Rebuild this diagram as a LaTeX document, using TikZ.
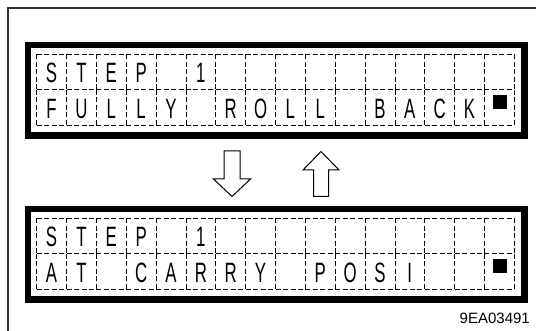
\documentclass[tikz,border=0pt]{standalone}
\usepackage{fontspec}
\setmainfont{Liberation Sans}

\tikzset{
  lcdframe/.style={line width=6.5pt},
  lcdcell/.style={line width=0.8pt, dash pattern=on 5pt off 2.5pt},
  lcdchar/.style={font=\fontsize{28}{28}\selectfont, xscale=0.6, anchor=base, inner sep=0pt},
  lcdcursor/.style={fill, minimum size=14pt, inner sep=0pt},
  hollowarrow/.style={line width=1pt, line join=miter},
}

\begin{document}
\begin{tikzpicture}[x=1pt,y=-1pt]
  \useasboundingbox (0,0) rectangle (536,331);
  \draw[black!80, line width=1.3pt] (8,331) -- (8,8) -- (536,8);

  \begin{scope}
    \draw[lcdframe] (28,45) rectangle (524.5,135.5);
    \foreach \r in {0,1}{
      \foreach \c in {0,...,15}
        \draw[lcdcell] (36.7+\c*29.85,54.3+\r*35.6) -- ++(29.85,0)
                       (36.7+\c*29.85,54.3+\r*35.6) -- ++(0,35.6);
      \draw[lcdcell] (514.3,54.3+\r*35.6) -- ++(0,35.6);
    }
    \foreach \c in {0,...,15}
      \draw[lcdcell] (36.7+\c*29.85,125.5) -- ++(29.85,0);
    \foreach \c/\ch in {0/S,1/T,2/E,3/P,5/1}
      \node[lcdchar] (topA\c) at (51.6+\c*29.85,82.8) {\ch};
    \foreach \c/\ch in {0/F,1/U,2/L,3/L,4/Y,6/R,7/O,8/L,9/L,11/B,12/A,13/C,14/K}
      \node[lcdchar] (topB\c) at (51.6+\c*29.85,118.4) {\ch};
    \node[lcdcursor] (topcursor) at (500,102) {};
  \end{scope}

  \draw[hollowarrow] (224,151) -- (240,151) -- (240,179) -- (250.5,179)
    -- (232,196.5) -- (213.5,179) -- (224,179) -- cycle;
  \draw[hollowarrow] (313.5,196.5) -- (328.5,196.5) -- (328.5,170) -- (339,170)
    -- (321,151.5) -- (303,170) -- (313.5,170) -- cycle;

  \begin{scope}[shift={(0,164)}]
    \draw[lcdframe] (28,45) rectangle (524.5,135.5);
    \foreach \r in {0,1}{
      \foreach \c in {0,...,15}
        \draw[lcdcell] (36.7+\c*29.85,54.3+\r*35.6) -- ++(29.85,0)
                       (36.7+\c*29.85,54.3+\r*35.6) -- ++(0,35.6);
      \draw[lcdcell] (514.3,54.3+\r*35.6) -- ++(0,35.6);
    }
    \foreach \c in {0,...,15}
      \draw[lcdcell] (36.7+\c*29.85,125.5) -- ++(29.85,0);
    \foreach \c/\ch in {0/S,1/T,2/E,3/P,5/1}
      \node[lcdchar] (botA\c) at (51.6+\c*29.85,82.8) {\ch};
    \foreach \c/\ch in {0/A,1/T,3/C,4/A,5/R,6/R,7/Y,9/P,10/O,11/S,12/I}
      \node[lcdchar] (botB\c) at (51.6+\c*29.85,118.4) {\ch};
    \node[lcdcursor] (botcursor) at (500,102) {};
  \end{scope}

  \node[font=\fontsize{15}{15}\selectfont, anchor=base east, inner sep=0pt] (figcode) at (530,323.3) {9EA03491};
\end{tikzpicture}
\end{document}
